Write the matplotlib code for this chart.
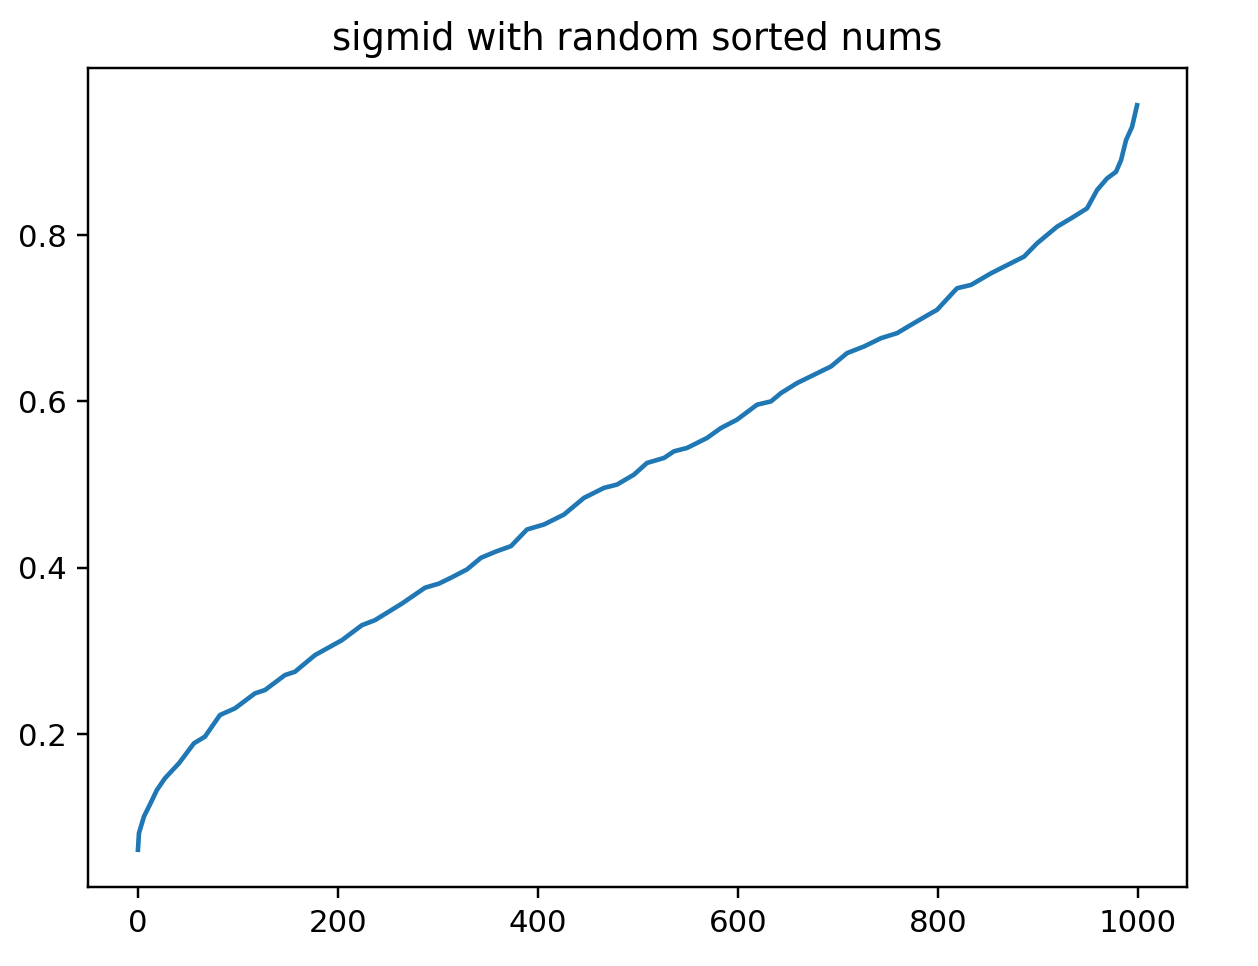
from matplotlib import pyplot as plt

# values (index, sigmoid value)
idx = [0, 1, 6, 11, 19, 27, 41, 56, 67, 82, 97, 117, 127, 147, 157, 177, 204, 224, 237, 264,
       287, 301, 313, 329, 343, 359, 373, 389, 406, 426, 446, 466, 479, 496, 509, 526, 536,
       549, 569, 583, 599, 619, 633, 643, 659, 676, 693, 709, 726, 743, 759, 773, 793, 799,
       819, 833, 853, 876, 886, 899, 919, 933, 949, 959, 969, 978, 983, 988, 994, 999]
vals = [0.061, 0.081, 0.101, 0.113, 0.133, 0.147, 0.165, 0.189, 0.197, 0.223, 0.231, 0.249,
        0.253, 0.271, 0.275, 0.295, 0.313, 0.331, 0.337, 0.357, 0.376, 0.381, 0.388, 0.398,
        0.412, 0.420, 0.426, 0.446, 0.452, 0.464, 0.484, 0.496, 0.500, 0.512, 0.526, 0.532,
        0.540, 0.544, 0.556, 0.568, 0.578, 0.596, 0.600, 0.610, 0.622, 0.632, 0.642, 0.658,
        0.666, 0.676, 0.682, 0.692, 0.706, 0.710, 0.736, 0.740, 0.754, 0.768, 0.774, 0.790,
        0.810, 0.820, 0.832, 0.854, 0.868, 0.876, 0.890, 0.914, 0.930, 0.956]

title = 'sigmid with random sorted nums'


def main():
    dpi = 221.5
    fig = plt.figure(figsize=(1258 / dpi, 966 / dpi), dpi=dpi)
    ax = fig.add_axes([88 / 1258, 79 / 966, 1099 / 1258, 819 / 966])
    ax.plot(idx, vals, color='#1f77b4')
    ax.set_title(title)
    ax.set_xticks([0, 200, 400, 600, 800, 1000])
    ax.set_yticks([0.2, 0.4, 0.6, 0.8])
    fig.savefig('out.png', dpi=dpi)
    plt.close(fig)


if __name__ == '__main__':
    main()
